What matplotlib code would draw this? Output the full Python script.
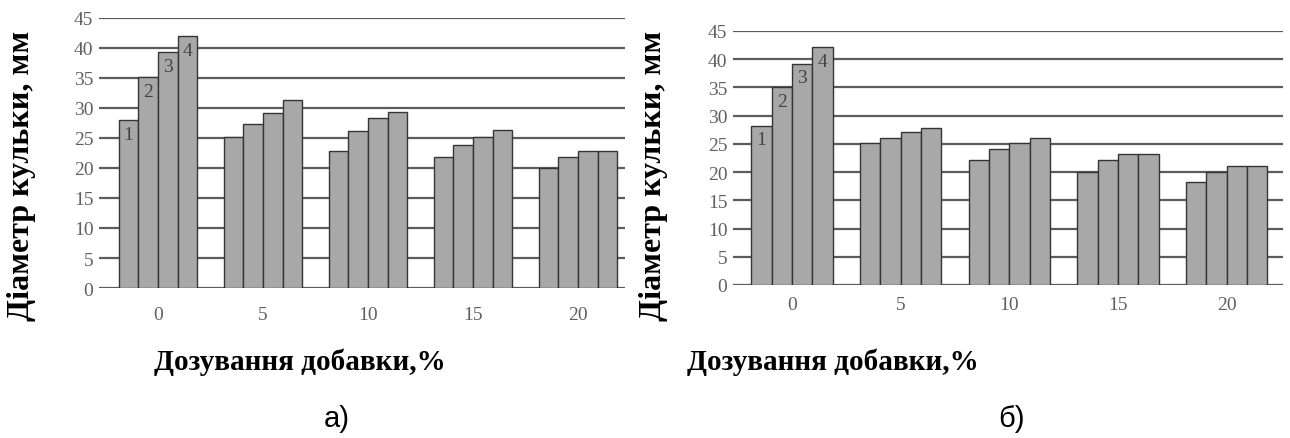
import matplotlib.pyplot as plt
import numpy as np

# дозування добавки, %
doses = ["0", "5", "10", "15", "20"]
series_names = ["1", "2", "3", "4"]

# діаметр кульки, мм (а)
diam_a = [
    [28.0, 25.2, 22.9, 21.9, 20.0],
    [35.2, 27.3, 26.2, 23.9, 21.9],
    [39.4, 29.2, 28.3, 25.1, 22.9],
    [42.0, 31.3, 29.3, 26.3, 22.9],
]
# діаметр кульки, мм (б)
diam_b = [
    [28.2, 25.2, 22.1, 20.0, 18.3],
    [35.0, 26.1, 24.1, 22.2, 20.1],
    [39.2, 27.1, 25.2, 23.2, 21.1],
    [42.1, 27.9, 26.1, 23.2, 21.1],
]

serif = ['Liberation Serif', 'DejaVu Serif']
fig = plt.figure(figsize=(12.9, 4.39), dpi=100)


def draw_panel(ax, data, xlim, xpad):
    x = np.arange(len(doses))
    w = 0.187
    for i, vals in enumerate(data):
        pos = x + (i - 1.5) * w
        ax.bar(pos, vals, width=w, color='#a8a8a8', edgecolor='#353535',
               linewidth=1.0, zorder=3)
        # номер серії всередині першої групи
        ax.text(pos[0], vals[0] - 2.5, series_names[i], ha='center', va='center',
                fontsize=14, color='#444444', family=serif, zorder=4)
    ax.set_ylim(0, 45)
    ax.set_xlim(*xlim)
    ax.set_yticks(range(0, 46, 5))
    ax.set_xticks(x)
    ax.set_xticklabels(doses)
    ax.yaxis.grid(True, color='#5c5c5c', linewidth=1.6, zorder=1)
    ax.set_axisbelow(True)
    for s in ax.spines.values():
        s.set_visible(False)
    ax.tick_params(axis='y', length=0, pad=4, labelsize=14, labelcolor='#606060')
    ax.tick_params(axis='x', length=0, pad=xpad, labelsize=14, labelcolor='#606060')
    for lbl in ax.get_xticklabels() + ax.get_yticklabels():
        lbl.set_family(serif)


ax1 = fig.add_axes([99 / 1290, 1 - 289 / 439, 526 / 1290, 270 / 439])
draw_panel(ax1, diam_a, (-0.562, 4.448), 13)
ax2 = fig.add_axes([733 / 1290, 1 - 286 / 439, 550 / 1290, 254 / 439])
draw_panel(ax2, diam_b, (-0.543, 4.52), 8)

ylab = "Діаметр кульки, мм"
xlab = "Дозування добавки,%"
fig.text(22 / 1290, 1 - 176 / 439, ylab, rotation=90, ha='center', va='center',
         fontsize=23, fontweight='bold', family=serif)
fig.text(654 / 1290, 1 - 176 / 439, ylab, rotation=90, ha='center', va='center',
         fontsize=23, fontweight='bold', family=serif)
fig.text(300 / 1290, 1 - 362 / 439, xlab, ha='center', va='center',
         fontsize=21, fontweight='bold', family=serif)
fig.text(833 / 1290, 1 - 362 / 439, xlab, ha='center', va='center',
         fontsize=21, fontweight='bold', family=serif)

narrow = ['Liberation Sans Narrow', 'Liberation Sans', 'DejaVu Sans']
fig.text(337 / 1290, 1 - 419 / 439, "а)", ha='center', va='center',
         fontsize=21, family=narrow)
fig.text(1012 / 1290, 1 - 419 / 439, "б)", ha='center', va='center',
         fontsize=21, family=narrow)

fig.savefig('out.png', dpi=100, facecolor='white')
